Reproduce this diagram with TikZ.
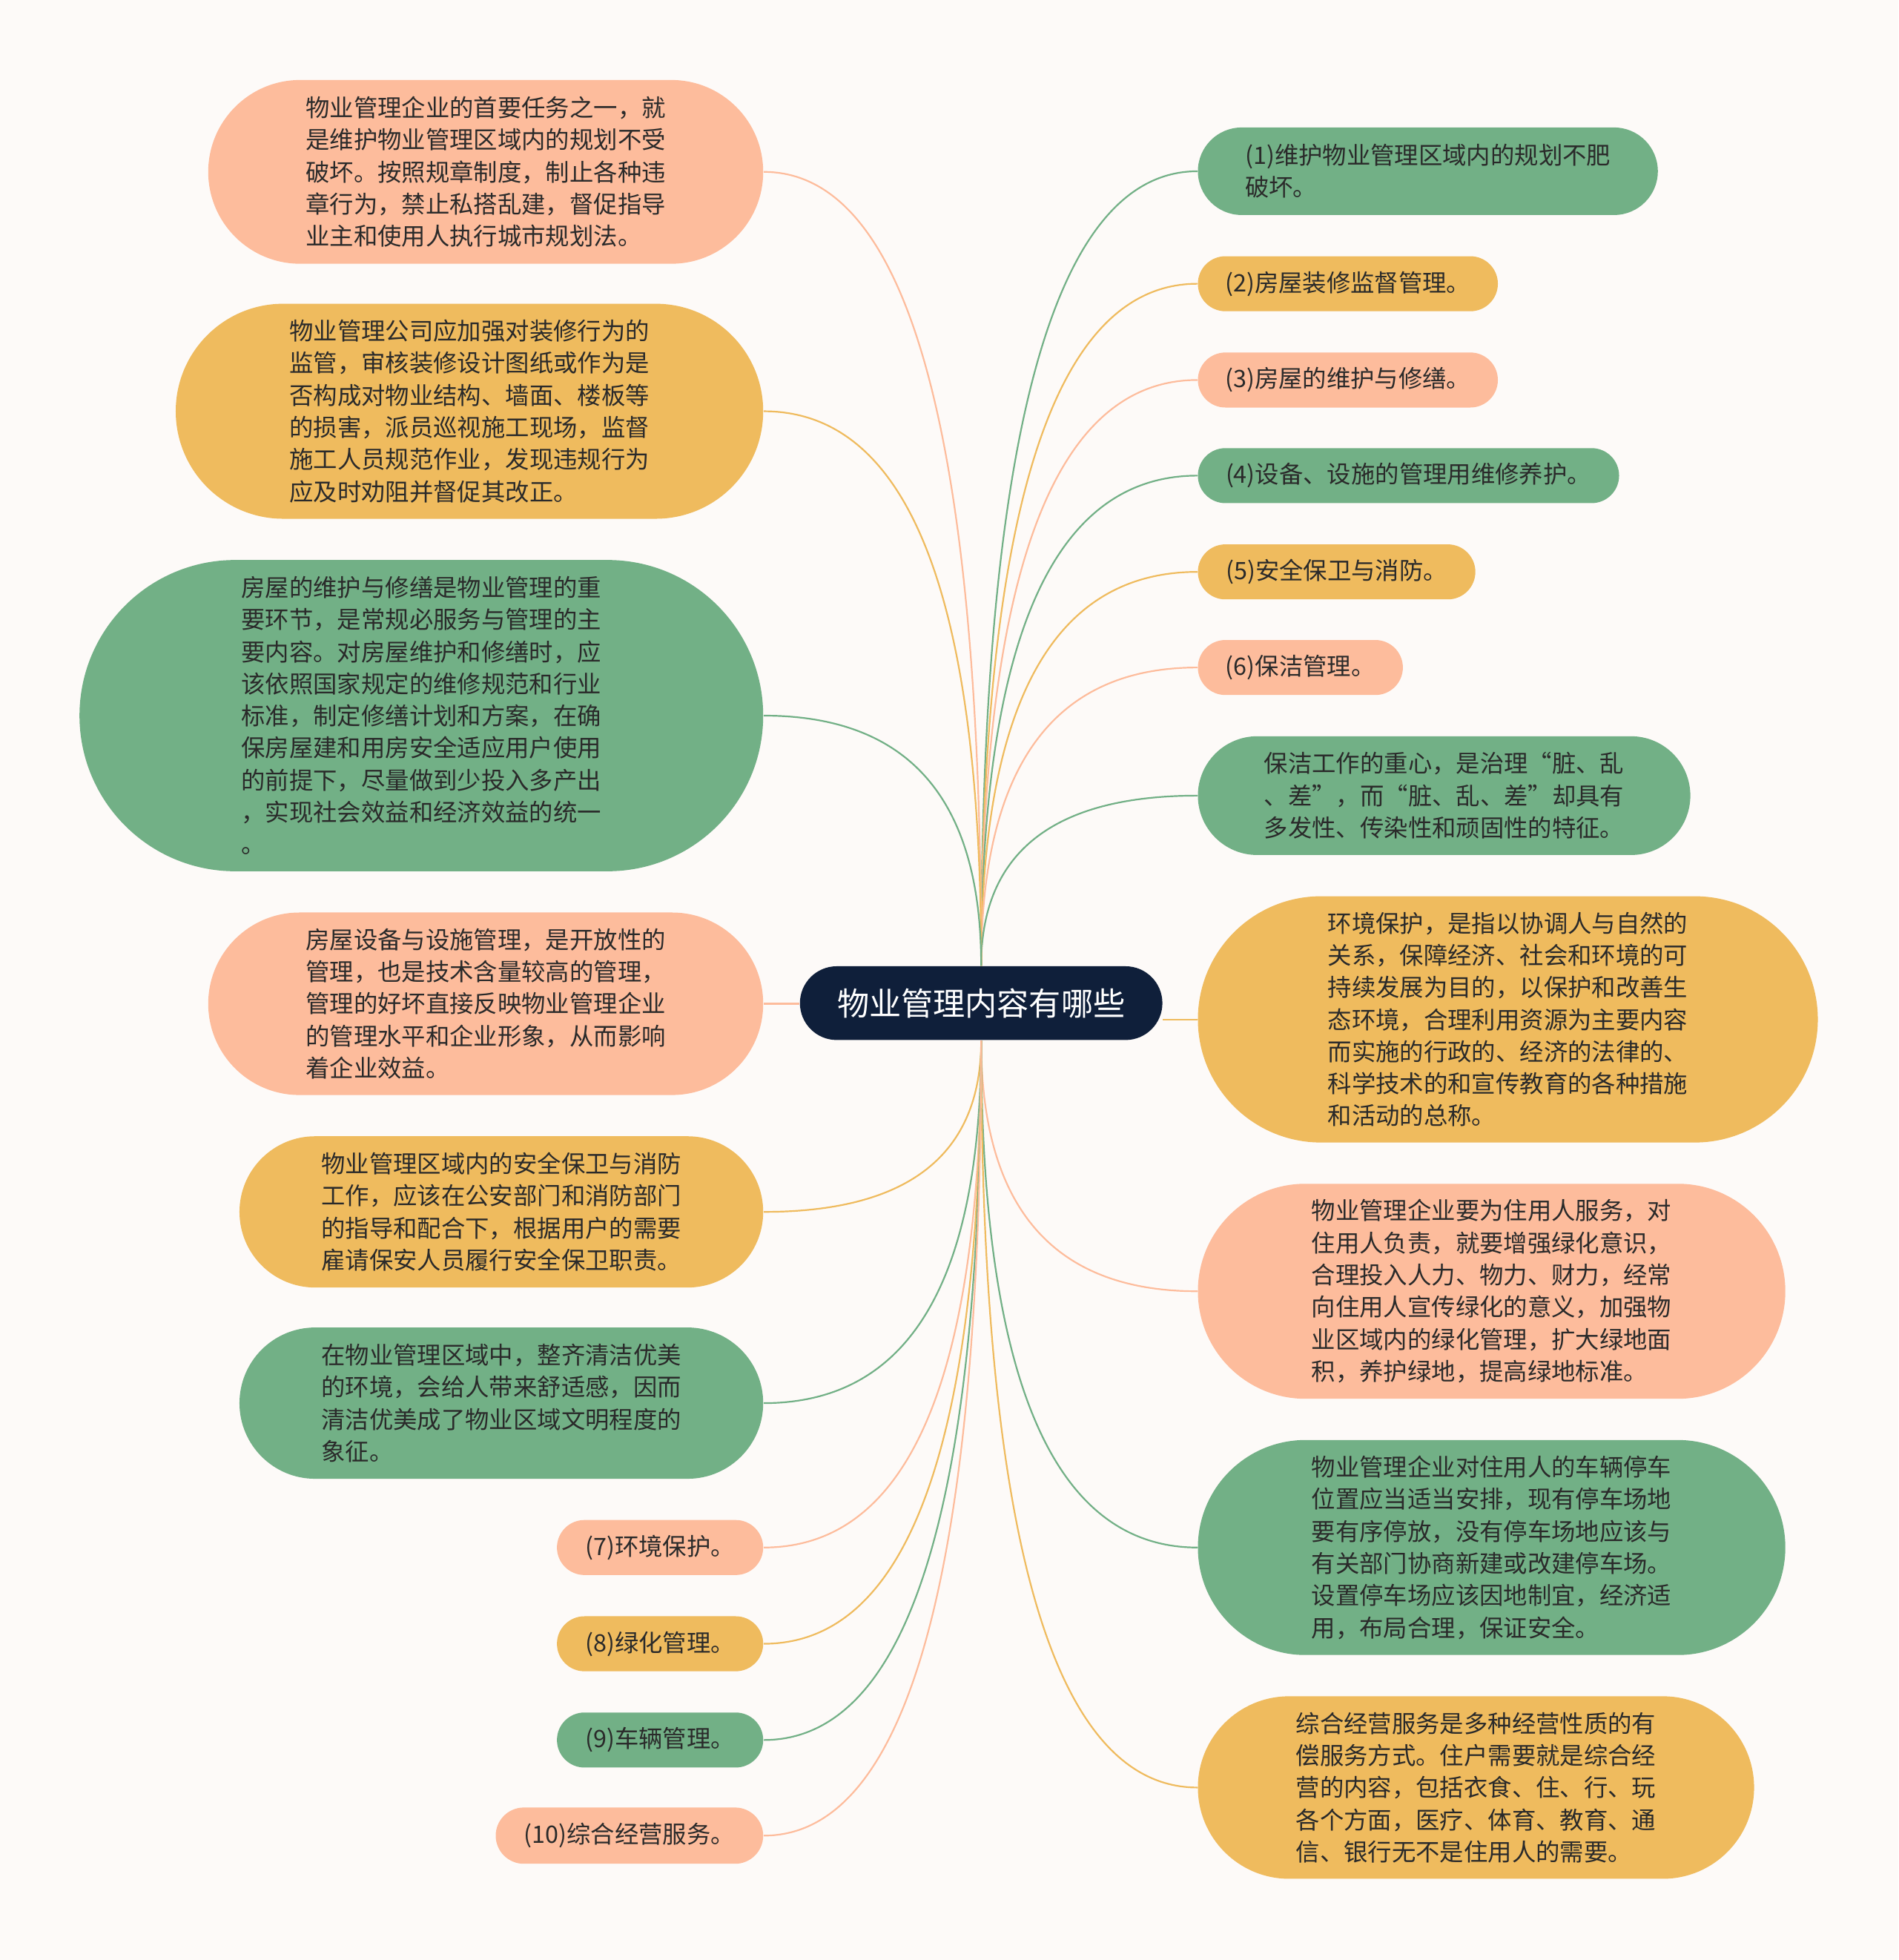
\documentclass[tikz,border=0pt]{standalone}
\usepackage{fontspec}
\setmainfont{Noto Sans CJK SC}
\usetikzlibrary{shapes.misc, calc}
\definecolor{mmgreen}{HTML}{72B086}
\definecolor{mmyellow}{HTML}{EFBB5E}
\definecolor{mmsalmon}{HTML}{FDBC9C}
\definecolor{mmnavy}{HTML}{0F1F3A}
\definecolor{mmtext}{HTML}{2A2A2A}
\definecolor{mmbg}{HTML}{FDFAF8}

\begin{document}
\begin{tikzpicture}[x=0.5pt, y=-0.5pt,
    topic/.style={rounded rectangle, inner xsep=0pt, inner ysep=2pt, align=left, text=mmtext, font=\fontsize{9.6}{12.85}\selectfont},
    rnode/.style={topic, anchor=west},
    lnode/.style={topic, anchor=east},
    link/.style={line width=0.65pt, to path={.. controls ($(\tikztostart)!2/3!(\tikztostart |- \tikztotarget)$) and ($(\tikztotarget)!2/3!(\tikztostart |- \tikztotarget)$) .. (\tikztotarget)}}
]
    \fill[mmbg] (0,0) rectangle (1519,1568);

    \node[rounded rectangle, fill=mmnavy, text=white, inner xsep=0pt, minimum width=145pt, minimum height=29.5pt, font=\fontsize{12.8}{15}\selectfont] (c) at (785,802.5) {物业管理内容有哪些};

    % right side
    \node[rnode, fill=mmgreen, minimum width=184pt, minimum height=35pt] (r1) at (958,137) {(1)维护物业管理区域内的规划不肥\\破坏。};
    \node[rnode, fill=mmyellow, minimum width=120pt, minimum height=22pt] (r2) at (958,227) {(2)房屋装修监督管理。};
    \node[rnode, fill=mmsalmon, minimum width=120pt, minimum height=22pt] (r3) at (958,304) {(3)房屋的维护与修缮。};
    \node[rnode, fill=mmgreen, minimum width=168.5pt, minimum height=22pt] (r4) at (958,380.5) {(4)设备、设施的管理用维修养护。};
    \node[rnode, fill=mmyellow, minimum width=111pt, minimum height=22pt] (r5) at (958,457.5) {(5)安全保卫与消防。};
    \node[rnode, fill=mmsalmon, minimum width=82pt, minimum height=22pt] (r6) at (958,534) {(6)保洁管理。};
    \node[rnode, fill=mmgreen, minimum width=197pt, minimum height=47.5pt] (r7) at (958,636.5) {保洁工作的重心，是治理“脏、乱\\、差”，而“脏、乱、差”却具有\\多发性、传染性和顽固性的特征。};
    \node[rnode, fill=mmyellow, minimum width=248pt, minimum height=98.5pt] (r8) at (958,815.5) {环境保护，是指以协调人与自然的\\关系，保障经济、社会和环境的可\\持续发展为目的，以保护和改善生\\态环境，合理利用资源为主要内容\\而实施的行政的、经济的法律的、\\科学技术的和宣传教育的各种措施\\和活动的总称。};
    \node[rnode, fill=mmsalmon, minimum width=235pt, minimum height=86pt] (r9) at (958,1033) {物业管理企业要为住用人服务，对\\住用人负责，就要增强绿化意识，\\合理投入人力、物力、财力，经常\\向住用人宣传绿化的意义，加强物\\业区域内的绿化管理，扩大绿地面\\积，养护绿地，提高绿地标准。};
    \node[rnode, fill=mmgreen, minimum width=235pt, minimum height=86pt] (r10) at (958,1238) {物业管理企业对住用人的车辆停车\\位置应当适当安排，现有停车场地\\要有序停放，没有停车场地应该与\\有关部门协商新建或改建停车场。\\设置停车场应该因地制宜，经济适\\用，布局合理，保证安全。};
    \node[rnode, fill=mmyellow, minimum width=222.5pt, minimum height=73pt] (r11) at (958,1430) {综合经营服务是多种经营性质的有\\偿服务方式。住户需要就是综合经\\营的内容，包括衣食、住、行、玩\\各个方面，医疗、体育、教育、通\\信、银行无不是住用人的需要。};

    % left side
    \node[lnode, fill=mmsalmon, minimum width=222pt, minimum height=73.5pt] (l1) at (611,137.5) {物业管理企业的首要任务之一，就\\是维护物业管理区域内的规划不受\\破坏。按照规章制度，制止各种违\\章行为，禁止私搭乱建，督促指导\\业主和使用人执行城市规划法。};
    \node[lnode, fill=mmyellow, minimum width=235pt, minimum height=86pt] (l2) at (611,329) {物业管理公司应加强对装修行为的\\监管，审核装修设计图纸或作为是\\否构成对物业结构、墙面、楼板等\\的损害，派员巡视施工现场，监督\\施工人员规范作业，发现违规行为\\应及时劝阻并督促其改正。};
    \node[lnode, fill=mmgreen, minimum width=273.5pt, minimum height=124.5pt] (l3) at (611,572.5) {房屋的维护与修缮是物业管理的重\\要环节，是常规必服务与管理的主\\要内容。对房屋维护和修缮时，应\\该依照国家规定的维修规范和行业\\标准，制定修缮计划和方案，在确\\保房屋建和用房安全适应用户使用\\的前提下，尽量做到少投入多产出\\，实现社会效益和经济效益的统一\\。};
    \node[lnode, fill=mmsalmon, minimum width=222pt, minimum height=73pt] (l4) at (611,803) {房屋设备与设施管理，是开放性的\\管理，也是技术含量较高的管理，\\管理的好坏直接反映物业管理企业\\的管理水平和企业形象，从而影响\\着企业效益。};
    \node[lnode, fill=mmyellow, minimum width=209.5pt, minimum height=60.5pt] (l5) at (611,969.5) {物业管理区域内的安全保卫与消防\\工作，应该在公安部门和消防部门\\的指导和配合下，根据用户的需要\\雇请保安人员履行安全保卫职责。};
    \node[lnode, fill=mmgreen, minimum width=209.5pt, minimum height=60.5pt] (l6) at (611,1122.5) {在物业管理区域中，整齐清洁优美\\的环境，会给人带来舒适感，因而\\清洁优美成了物业区域文明程度的\\象征。};
    \node[lnode, fill=mmsalmon, minimum width=82.5pt, minimum height=22pt] (l7) at (611,1238) {(7)环境保护。};
    \node[lnode, fill=mmyellow, minimum width=82.5pt, minimum height=22pt] (l8) at (611,1315) {(8)绿化管理。};
    \node[lnode, fill=mmgreen, minimum width=82.5pt, minimum height=22pt] (l9) at (611,1392) {(9)车辆管理。};
    \node[lnode, fill=mmsalmon, minimum width=107pt, minimum height=22.5pt] (l10) at (611,1468.5) {(10)综合经营服务。};

    \draw[link, mmgreen] (c.north) to (r1.west);
    \draw[link, mmyellow] (c.north) to (r2.west);
    \draw[link, mmsalmon] (c.north) to (r3.west);
    \draw[link, mmgreen] (c.north) to (r4.west);
    \draw[link, mmyellow] (c.north) to (r5.west);
    \draw[link, mmsalmon] (c.north) to (r6.west);
    \draw[link, mmgreen] (c.north) to (r7.west);
    \draw[line width=0.65pt, mmyellow] (r8.west) -- (r8.west -| c.east);
    \draw[link, mmsalmon] (c.south) to (r9.west);
    \draw[link, mmgreen] (c.south) to (r10.west);
    \draw[link, mmyellow] (c.south) to (r11.west);

    \draw[link, mmsalmon] (c.north) to (l1.east);
    \draw[link, mmyellow] (c.north) to (l2.east);
    \draw[link, mmgreen] (c.north) to (l3.east);
    \draw[line width=0.65pt, mmsalmon] (l4.east) -- (l4.east -| c.west);
    \draw[link, mmyellow] (c.south) to (l5.east);
    \draw[link, mmgreen] (c.south) to (l6.east);
    \draw[link, mmsalmon] (c.south) to (l7.east);
    \draw[link, mmyellow] (c.south) to (l8.east);
    \draw[link, mmgreen] (c.south) to (l9.east);
    \draw[link, mmsalmon] (c.south) to (l10.east);
\end{tikzpicture}
\end{document}
